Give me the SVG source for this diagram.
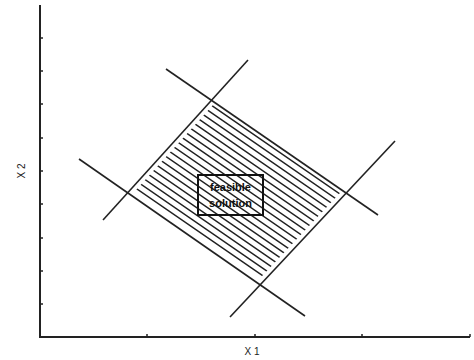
<svg xmlns="http://www.w3.org/2000/svg" width="474" height="360" viewBox="0 0 474 360">
<style>
.ax{stroke:#222;stroke-width:2;fill:none}
.tk{stroke:#222;stroke-width:1.5}
.cl{stroke:#222;stroke-width:1.6;fill:none}
.ht{stroke:#222;stroke-width:1.5;fill:none}
.lb{font-family:"Liberation Sans",Arial,sans-serif;font-size:10px;fill:#222}
.bx{font-family:"Liberation Sans",Arial,sans-serif;font-size:11px;font-weight:bold;fill:#111}
</style>
<defs>
<clipPath id="feas"><polygon points="215,102.8 342.3,190.6 256.5,282.1 131,195.5"/></clipPath>
</defs>
<g id="axes">
<path class="ax" d="M40 5 V337 H470"/>
<path class="tk" d="M40 38h3M40 71h3M40 104h3M40 138h3M40 171h3M40 204h3M40 238h3M40 271h3M40 304h3"/>
<path class="tk" d="M147 337v-3M255 337v-3M362 337v-3M470 337v-3"/>
<text class="lb" x="252" y="355" text-anchor="middle">X 1</text>
<text class="lb" x="0" y="0" text-anchor="middle" transform="translate(25,171) rotate(-90)">X 2</text>
</g>
<g id="connectors">
<line class="cl" x1="166" y1="69" x2="378" y2="215"/>
<line class="cl" x1="248" y1="60" x2="103" y2="220"/>
<line class="cl" x1="79" y1="159" x2="305" y2="316"/>
<line class="cl" x1="230" y1="317" x2="395" y2="141"/>
</g>
<g id="hatching" clip-path="url(#feas)">
<path class="ht" d="M120 42.2L360 207.8M120 49.7L360 215.3M120 57.2L360 222.8M120 64.7L360 230.3M120 72.2L360 237.8M120 79.7L360 245.3M120 87.2L360 252.8M120 94.7L360 260.3M120 102.2L360 267.8M120 109.7L360 275.3M120 117.2L360 282.8M120 124.7L360 290.3M120 132.2L360 297.8M120 139.7L360 305.3M120 147.2L360 312.8M120 154.7L360 320.3M120 162.2L360 327.8M120 169.7L360 335.3M120 177.2L360 342.8"/>
</g>
<g id="feasible-solution">
<rect x="198" y="175" width="65" height="40" fill="none" stroke="#111" stroke-width="2"/>
<text class="bx" x="230.5" y="191" text-anchor="middle">feasible</text>
<text class="bx" x="230.5" y="207" text-anchor="middle">solution</text>
</g>
</svg>
